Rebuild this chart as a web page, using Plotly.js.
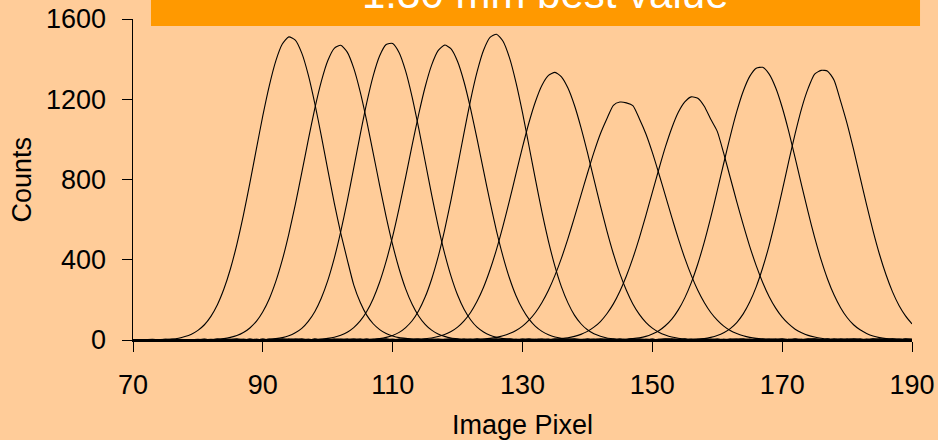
<!DOCTYPE html>
<html>
<head>
<meta charset="utf-8">
<script src="https://cdn.plot.ly/plotly-3.0.1.min.js"></script>
<style>html,body{margin:0;padding:0;background:#FFCC99;}#chart{width:938px;height:440px;}</style>
</head>
<body>
<div id="chart"></div>
<script>
var pixel = [70,71,72,73,74,75,76,77,78,79,80,81,82,83,84,85,86,87,88,89,90,91,92,93,94,95,96,97,98,99,100,101,102,103,104,105,106,107,108,109,110,111,112,113,114,115,116,117,118,119,120,121,122,123,124,125,126,127,128,129,130,131,132,133,134,135,136,137,138,139,140,141,142,143,144,145,146,147,148,149,150,151,152,153,154,155,156,157,158,159,160,161,162,163,164,165,166,167,168,169,170,171,172,173,174,175,176,177,178,179,180,181,182,183,184,185,186,187,188,189,190];

var counts1 = [1,2,1,2,2,3,5,9,17,29, 48,76,118,176,254,354,477,621,782,951, 1118,1268,1391,1475,1511,1495,1430,1322,1180,1019, 849,684,533,401,275,188,124,81,52,32, 20,12,8,5,4,3,4,2,3,5, 3,2,4,3,2,3,5,2,3,2, 4,3,2,2,3,5,3,2,4,2, 3,2,3,4,2,3,2,5,3,2, 2,3,4,2,3,2,3,2,4,3, 2,3,2,4,3,2,3,2,3,2, 4,2,3,2,3,5,2,3,2,3, 2,3,4,2,3,2,3,2,4,3, 2];
var counts2 = [2,1,2,3,1,2,3,2,1,2, 2,3,2,4,7,13,22,37,60,93, 141,206,292,399,528,675,834,997,1153,1288, 1392,1454,1469,1435,1355,1237,1092,932,770,614, 474,354,255,178,120,78,49,30,18,10, 6,3,2,3,4,2,3,2,5,3, 2,3,2,4,3,2,3,2,3,4, 2,3,5,2,3,2,4,3,2,3, 3,2,4,3,2,3,2,3,5,2, 3,2,3,4,2,3,2,3,2,4, 3,2,3,2,4,3,2,3,2,3, 4,2,3,2,3,5,2,3,2,3, 3];
var counts3 = [1,2,1,1,2,3,2,1,2,2, 3,2,2,3,2,4,3,2,3,2, 2,4,7,12,21,36,58,93,141,208, 296,407,540,692,857,1024,1182,1317,1417,1473, 1478,1432,1340,1211,1057,891,725,569,432,317, 224,153,101,64,40,24,14,7,4,2, 3,2,4,3,2,3,2,5,3,2, 3,4,2,3,2,3,2,4,3,2, 3,2,3,5,2,3,4,2,3,2, 3,2,4,3,2,3,2,3,4,2, 3,2,3,2,5,3,2,3,2,4, 3,2,3,2,3,4,2,3,2,3, 2];
var counts4 = [2,1,2,1,2,2,1,3,2,1, 2,3,2,2,3,2,4,2,3,2, 3,2,3,4,2,3,2,3,2,4, 8,14,24,39,62,95,142,206,289,393, 516,658,812,971,1124,1261,1370,1442,1470,1451, 1388,1286,1153,1002,844,688,543,416,308,221, 154,104,68,43,26,15,9,5,3,2, 3,2,4,3,2,3,2,3,5,2, 3,2,3,2,4,3,2,3,2,3, 4,2,3,2,3,2,5,3,2,3, 2,3,4,2,3,2,3,2,3,4, 2,3,2,3,5,2,3,2,4,3, 2];
var counts5 = [1,2,1,2,1,2,2,1,2,1, 2,2,3,2,1,2,3,2,2,3, 2,3,2,4,3,2,3,2,3,2, 3,4,2,3,2,3,2,4,7,13, 23,38,62,96,146,214,303,414,548,700, 865,1034,1196,1336,1444,1508,1524,1489,1406,1283, 1133,967,799,637,492,367,265,185,124,81, 51,31,19,10,6,3,2,3,4,2, 3,2,3,5,2,3,2,4,3,2, 3,2,3,2,4,3,2,3,2,3, 5,2,3,2,3,4,2,3,2,3, 2,4,3,2,3,2,3,5,2,3, 2];
var counts6 = [2,1,2,1,2,1,2,2,1,2, 2,1,2,3,2,2,3,2,3,2, 3,2,4,2,3,2,3,2,3,4, 2,3,2,3,5,2,3,2,4,3, 2,3,4,2,3,6,10,17,27,42, 64,95,137,193,263,350,452,569,696,829, 961,1084,1189,1270,1319,1334,1312,1256,1170,1060, 935,802,670,544,430,331,248,180,128,88, 59,39,25,15,9,5,3,2,3,4, 2,3,2,3,5,2,3,2,4,3, 2,3,2,3,2,4,3,2,3,2, 3,5,2,3,2,3,4,2,3,2, 3];
var counts7 = [1,2,1,2,1,1,2,1,2,2, 1,2,2,3,2,1,2,3,2,2, 3,2,3,2,3,4,2,3,2,3, 2,3,4,2,3,2,3,2,5,3, 2,3,2,4,3,2,3,2,3,4, 2,3,2,3,5,8,13,21,32,47, 69,99,137,187,248,322,408,505,611,721, 830,935,1028,1103,1170,1186,1182,1168,1103,1028, 935,830,721,611,505,408,322,248,187,137, 99,69,47,32,21,13,8,5,3,2, 3,2,4,3,2,3,2,3,5,2, 3,2,3,2,4,3,2,3,2,3, 2];
var counts8 = [2,1,2,1,2,2,1,2,1,2, 2,3,1,2,2,3,2,2,3,2, 2,3,2,3,4,2,3,2,3,2, 4,3,2,3,2,3,5,2,3,2, 3,2,4,3,2,3,2,3,2,4, 3,2,3,5,2,3,2,3,4,2, 3,2,3,2,2,4,7,11,18,28, 43,64,92,131,180,243,319,408,509,620, 736,851,961,1057,1135,1187,1212,1205,1165,1100, 1040,930,810,690,575,467,371,287,216,159, 114,80,54,36,23,15,9,5,3,2, 3,4,2,3,2,3,2,5,3,2, 3];
var counts9 = [1,2,1,2,1,2,1,2,2,1, 2,2,1,3,2,2,3,2,2,3, 2,3,2,3,2,4,3,2,3,2, 3,2,4,3,2,3,2,3,2,5, 3,2,3,2,4,3,2,3,2,3, 2,4,3,2,3,2,3,5,2,3, 2,3,2,4,3,2,3,2,3,2, 4,3,2,3,2,2,4,7,11,18, 30,46,71,104,150,210,286,379,488,611, 744,881,1015,1138,1240,1314,1355,1359,1325,1257, 1160,1041,908,771,637,511,399,303,224,161, 112,76,51,33,20,12,7,4,2,3, 2];
var counts10 = [2,1,2,1,1,2,1,2,1,2, 2,1,2,2,3,2,2,3,2,2, 3,2,2,3,2,3,4,2,3,2, 3,2,3,2,4,3,2,3,2,3, 2,3,5,2,3,2,3,4,2,3, 2,3,2,3,2,4,3,2,3,2, 3,5,2,3,2,3,2,4,3,2, 3,2,3,2,3,4,2,3,2,3, 2,3,4,2,3,3,2,4,7,13, 22,36,57,87,130,189,265,360,472,602, 743,889,1029,1155,1254,1325,1344,1340,1295,1191, 1079,950,812,675,544,426,325,240,172,120, 80];

var series = [counts1,counts2,counts3,counts4,counts5,counts6,counts7,counts8,counts9,counts10];
var xTicks = [70,90,110,130,150,170,190];
var yTicks = [0,400,800,1200,1600];
var chartTitle = '1.30 mm best value';
var xTitle = 'Image Pixel';
var yTitle = 'Counts';

var FONT = 'Arial, "Liberation Sans", sans-serif';
var traces = series.map(function(s){
  return {x: pixel, y: s, type: 'scatter', mode: 'lines',
    line: {color: '#000000', width: 1.1, shape: 'spline', smoothing: 0.6},
    hoverinfo: 'skip', showlegend: false};
});

var layout = {
  width: 938, height: 440,
  margin: {l: 133, r: 26, t: 19, b: 100, pad: 0},
  paper_bgcolor: '#FFCC99', plot_bgcolor: '#FFCC99',
  showlegend: false,
  font: {family: FONT, color: '#000000', size: 27},
  xaxis: {range: [70,190], tickvals: xTicks, ticktext: xTicks.map(String),
    showline: true, linecolor: '#000000', linewidth: 2, ticks: 'outside', ticklen: 10, tickwidth: 1, tickcolor: '#000000',
    ticklabelstandoff: 10,
    showgrid: false, zeroline: false, tickfont: {family: FONT, size: 27, color: '#000000'}, fixedrange: true},
  yaxis: {range: [0,1600], tickvals: yTicks, ticktext: yTicks.map(String),
    showline: true, linecolor: '#000000', linewidth: 1.5, ticks: 'outside', ticklen: 10, tickwidth: 1, tickcolor: '#000000',
    ticklabelstandoff: 10,
    showgrid: false, zeroline: false, tickfont: {family: FONT, size: 27, color: '#000000'}, fixedrange: true},
  shapes: [{type: 'rect', xref: 'paper', yref: 'paper', x0: 0.0231, x1: 1.0103, y0: 0.978, y1: 1.12,
    fillcolor: '#FF9900', line: {width: 0}, layer: 'above'}],
  annotations: [
    {text: chartTitle, xref: 'paper', yref: 'paper', x: 0.53, y: 1.08, xanchor: 'center', yanchor: 'middle',
      showarrow: false, font: {family: FONT, size: 42, color: '#FFFFFF'}},
    {text: xTitle, xref: 'paper', yref: 'paper', x: 0.5, y: -0.265, xanchor: 'center', yanchor: 'middle',
      showarrow: false, font: {family: FONT, size: 27, color: '#000000'}},
    {text: yTitle, xref: 'paper', yref: 'paper', x: -0.1425, y: 0.5, xanchor: 'center', yanchor: 'middle', textangle: -90,
      showarrow: false, font: {family: FONT, size: 27, color: '#000000'}}
  ]
};

Plotly.newPlot('chart', traces, layout, {staticPlot: true, displayModeBar: false});
</script>
</body>
</html>
